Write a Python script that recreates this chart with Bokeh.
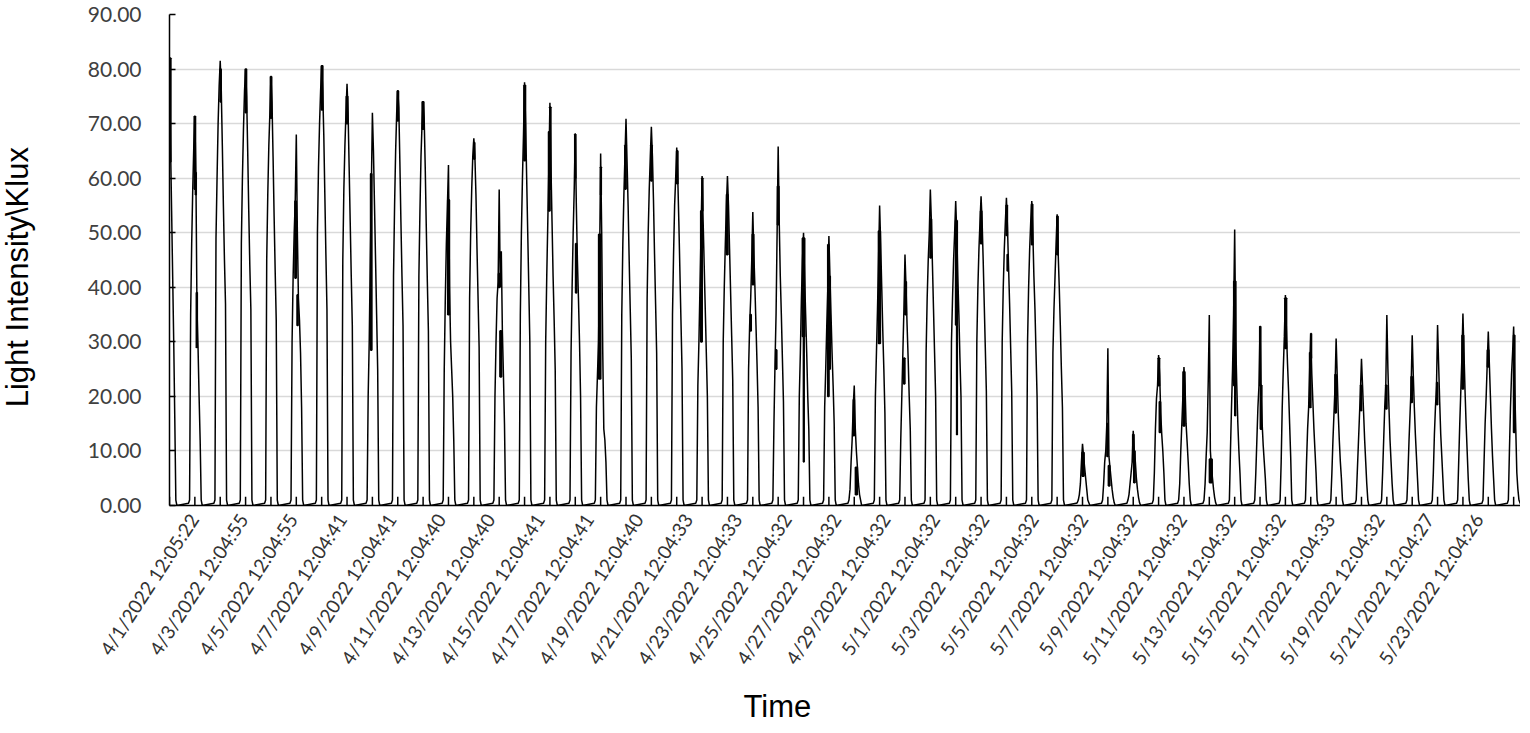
import math
from bokeh.plotting import figure
from bokeh.layouts import row
from bokeh.models import Range1d, FixedTicker, CustomJSTickFormatter, NumeralTickFormatter, Title
from bokeh.core.properties import value
from bokeh.embed import file_html
from bokeh.resources import INLINE

# ---------------- data ----------------
N = None
# hour of day of each value in a day's row (row value at noon = daily peak)
hours = [6, 7, 8, 9, 10, 11, 12, 13, 14, 15, 16, 17, 18, 19]

day_values = [
    [N, N, N, N, N, N, 82, 66, 54, 42, 30, 16, 1, 0],                 # 4/1
    [0.4, 1, 35, 48, 58, 66, 71.3, 60, 36, 29, 20, 12, 1, 0],         # 4/2
    [0.4, 1, 49, 60, 70, 77, 81.5, 76, 66, 55, 45, 37, 1, 0],         # 4/3
    [0.4, 1, 48, 60, 69, 76, 80, 75, 65, 54, 44, 36, 1, 0],           # 4/4
    [0.4, 1, 45, 57, 66, 72, 78.6, 74, 64, 53, 43, 34, 1, 0],         # 4/5
    [0.4, 1, 30, 42, 50, 56, 68, 50, 38, 34, 28, 18, 1, 0],           # 4/6
    [0.4, 1, 50, 62, 70, 76, 80.6, 76, 68, 57, 46, 36, 1, 0],         # 4/7
    [0.4, 1, 45, 58, 66, 72, 77.3, 72, 62, 52, 42, 33, 1, 0],         # 4/8
    [0.4, 1, 20, 30, 45, 58, 72, 65, 55, 45, 35, 25, 1, 0],           # 4/9
    [0.4, 1, 42, 55, 65, 72, 76, 73, 63, 52, 42, 33, 1, 0],           # 4/10
    [0.4, 1, 42, 54, 64, 70, 74, 71, 62, 51, 41, 32, 1, 0],           # 4/11
    [0.4, 1, 25, 38, 48, 55, 62.4, 40, 30, 25, 20, 12, 1, 0],         # 4/12
    [0.4, 1, 38, 50, 58, 64, 67.3, 64, 57, 47, 38, 29, 1, 0],         # 4/13
    [0.4, 1, 20, 30, 38, 41, 57.9, 40, 46.6, 32, 24, 15, 1, 0],       # 4/14
    [0.4, 1, 35, 50, 60, 68, 77.6, 70, 60, 50, 40, 30, 1, 0],         # 4/15
    [0.4, 1, 30, 42, 52, 62, 73.8, 62, 52, 42, 34, 25, 1, 0],         # 4/16
    [0.4, 1, 28, 40, 50, 58, 68.2, 55, 45, 38, 30, 20, 1, 0],         # 4/17
    [0.4, 1, 18, 24, 30, 45, 64.5, 50, 28, 14, 12, 8, 1, 0],          # 4/18
    [0.4, 1, 35, 48, 57, 64, 70.9, 63, 55, 45, 36, 27, 1, 0],         # 4/19
    [0.4, 1, 38, 50, 58, 64, 69.4, 64, 56, 46, 37, 28, 1, 0],         # 4/20
    [0.4, 1, 35, 46, 55, 60, 65.6, 60, 52, 43, 34, 25, 1, 0],         # 4/21
    [0.4, 1, 22, 30, 40, 50, 60.4, 52, 44, 36, 28, 20, 1, 0],         # 4/22
    [0.4, 1, 30, 40, 48, 55, 60.4, 55, 47, 39, 31, 23, 1, 0],         # 4/23
    [0.4, 1, 25, 33, 38, 45, 53.8, 46, 40, 33, 26, 18, 1, 0],         # 4/24
    [0.4, 1, 15, 26, 35, 50, 65.8, 52, 42, 35, 27, 19, 1, 0],         # 4/25
    [0.4, 1, 20, 28, 38, 45, 50, 42, 35, 28, 20, 14, 1, 0],           # 4/26
    [0.4, 1, 18, 25, 33, 40, 49.4, 42, 35, 28, 22, 15, 1, 0],         # 4/27
    [0.4, 1, 3, 8, 12, 18, 22, 14, 10, 7, 4, 2, 1, 0],                # 4/28
    [0.4, 1, 20, 28, 36, 45, 55, 48, 40, 32, 25, 17, 1, 0],           # 4/29
    [0.4, 1, 12, 20, 28, 36, 46, 40, 33, 27, 20, 14, 1, 0],           # 4/30
    [0.4, 1, 28, 38, 45, 50, 57.9, 52, 44, 36, 28, 20, 1, 0],         # 5/1
    [0.4, 1, 30, 38, 45, 50, 55.8, 50, 42, 35, 27, 20, 1, 0],         # 5/2
    [0.4, 1, 30, 40, 47, 52, 56.7, 52, 45, 37, 29, 21, 1, 0],         # 5/3
    [0.4, 1, 30, 40, 47, 52, 56.4, 51, 44, 37, 29, 21, 1, 0],         # 5/4
    [0.4, 1, 30, 40, 47, 52, 55.8, 50, 42, 36, 28, 20, 1, 0],         # 5/5
    [0.4, 1, 28, 36, 42, 48, 53.4, 46, 40, 33, 25, 18, 1, 0],         # 5/6
    [0.4, 0.5, 1, 2, 4, 8, 11.3, 9, 7, 5, 3, 1, 0.5, 0],              # 5/7
    [0.4, 1, 4, 8, 10, 15, 28.8, 9, 7, 5, 3, 1.5, 0.5, 0],            # 5/8
    [0.4, 1, 2, 4, 6, 8, 13.7, 10, 8, 5, 3, 1.5, 0.5, 0],             # 5/9
    [0.4, 1, 6, 14, 19.6, 22, 27.6, 24, 17, 13, 10, 6, 1, 0],         # 5/10
    [0.4, 1, 4, 10, 15, 20, 25.4, 22, 15, 11.6, 8, 4, 1, 0],          # 5/11
    [0.4, 1, 4, 9, 13.4, 23, 34.9, 10, 7, 5, 3, 1.5, 0.5, 0],         # 5/12
    [0.4, 1, 10, 18, 25, 35, 50.6, 30, 22, 15, 10, 6, 1, 0],          # 5/13
    [0.4, 1, 6, 12, 18, 22, 32.8, 20, 15, 11, 8, 5, 1, 0],            # 5/14
    [0.4, 1, 8, 18, 25, 31, 38.6, 32, 26, 21, 15, 9, 1, 0],           # 5/15
    [0.4, 1, 8, 14, 18, 25, 31.5, 24, 19, 14, 10, 6, 1, 0],           # 5/16
    [0.4, 1, 6, 12, 17, 22, 30.6, 24, 17, 12, 8, 5, 1, 0],            # 5/17
    [0.4, 1, 6, 11, 16, 21, 26.9, 22, 17, 12, 8, 4, 1, 0],            # 5/18
    [0.4, 1, 6, 12, 18, 22, 34.9, 25, 18, 12, 8, 4, 1, 0],            # 5/19
    [0.4, 1, 6, 12, 17, 22, 31.2, 24, 18, 13, 9, 5, 1, 0],            # 5/20
    [0.4, 1, 6, 13, 18, 22, 33.1, 26, 19, 13, 9, 5, 1, 0],            # 5/21
    [0.4, 1, 8, 15, 21, 27, 35.2, 28, 21, 15, 10, 5, 1, 0],           # 5/22
    [0.4, 1, 8, 15, 20, 26, 31.9, 26, 20, 14, 9, 5, 1, 0],            # 5/23
    [0.4, 1, 10, 18, 24, 28, 32.8, 22, 14, 6, 3, 1, 0.5, 0],          # 5/24
]

# fluctuating (cloudy) stretches: day index, start hour, end hour, low, high
band_day = [0, 1, 1, 1, 2, 3, 4, 5, 5, 6, 7, 8, 9, 10, 11, 12, 13, 13, 14, 15, 15,
            16, 16, 17, 17, 18, 19, 20, 21, 21, 22, 23, 23, 24, 24, 25, 25, 26, 26,
            27, 27, 28, 29, 29, 30, 31, 31, 32, 33, 33, 34, 35, 36, 37, 37, 38, 38,
            39, 39, 40, 41, 42, 42, 43, 43, 44, 45, 45, 46, 47, 48, 49, 50, 51, 52, 53]
band_h0 = [12.0, 11.5, 12.6, 13.5, 12.0, 11.8, 11.6, 10.8, 12.8, 11.8, 11.4, 10.4, 11.6, 11.2,
           11.4, 12.0, 11.4, 12.8, 11.5, 10.8, 12.0, 11.6, 12.4, 10.2, 12.0, 11.0, 11.6, 12.0,
           10.8, 12.0, 11.2, 11.6, 9.6, 9.8, 11.4, 11.0, 12.0, 11.0, 12.2, 11.2, 13.2, 11.0,
           10.8, 12.0, 11.8, 12.0, 13.0, 11.6, 11.8, 12.8, 11.8, 11.8, 11.6, 11.2, 12.6, 11.6,
           12.6, 11.8, 12.8, 11.2, 12.2, 11.2, 12.2, 11.8, 12.4, 11.6, 11.0, 12.0, 11.0, 11.2,
           11.0, 11.0, 11.2, 11.2, 11.2, 12.0]
band_h1 = [13.2, 12.5, 13.2, 14.2, 12.8, 12.8, 12.6, 11.8, 13.6, 13.0, 12.6, 11.4, 12.6, 12.6,
           12.8, 12.8, 12.4, 14.2, 12.8, 12.0, 12.8, 12.4, 13.2, 12.0, 12.5, 12.0, 12.6, 13.0,
           12.0, 12.6, 12.4, 12.8, 10.4, 10.6, 12.6, 13.0, 12.5, 12.0, 13.2, 12.0, 14.8, 12.6,
           11.8, 13.2, 13.0, 13.4, 13.4, 12.6, 12.8, 13.2, 12.8, 12.8, 13.4, 12.0, 13.8, 12.6,
           13.6, 12.8, 13.8, 12.8, 14.6, 13.0, 12.8, 12.6, 13.6, 13.0, 12.0, 12.6, 12.0, 12.0,
           12.0, 12.0, 12.0, 12.6, 12.4, 13.0]
band_low = [63, 58, 57, 29, 74, 72, 71, 41.7, 33, 72.5, 70, 28.5, 70.5, 69, 35, 63.5, 40, 23.6,
            63.2, 54, 58, 60, 39, 23.2, 57, 58, 59.5, 59, 30, 54, 46, 40.5, 32, 25, 51.5, 31, 8,
            20, 25, 12.8, 2, 29.7, 22.3, 35, 45.4, 33.1, 13, 48, 49.5, 43, 47.8, 46, 5.4, 9, 3.6,
            8, 4.2, 22, 13.4, 14.6, 4.2, 22, 16.5, 22, 14, 28.8, 18, 27, 17, 17.4, 17.7, 18.9,
            18.5, 21.4, 25.4, 13.4]
band_high = [82, 71.3, 61, 39, 80, 80, 78.6, 55.8, 38.6, 80.6, 75, 60.8, 76, 74, 56, 66.5, 42.5,
             32, 77, 68.5, 73, 68, 48, 49.7, 62, 66, 66, 65, 54, 60, 57, 49.7, 35, 28.5, 58.5,
             49, 31, 47.8, 42, 19.4, 7, 50.3, 27, 41, 52.5, 52.2, 33, 54, 55, 46, 55.2, 53, 9.7,
             15, 7.3, 13, 10, 27, 19, 24.5, 8.5, 41.1, 22, 32.8, 22, 38, 28, 31.5, 24, 22, 22,
             23.6, 22.5, 31.2, 28.5, 31.2]

# small spike at the base under each day's peak
bump_vals = [1.6] * 54

tick_labels = [
    "4/1/2022 12:05:22", "4/3/2022 12:04:55", "4/5/2022 12:04:55", "4/7/2022 12:04:41",
    "4/9/2022 12:04:41", "4/11/2022 12:04:40", "4/13/2022 12:04:40", "4/15/2022 12:04:41",
    "4/17/2022 12:04:41", "4/19/2022 12:04:40", "4/21/2022 12:04:33", "4/23/2022 12:04:33",
    "4/25/2022 12:04:32", "4/27/2022 12:04:32", "4/29/2022 12:04:32", "5/1/2022 12:04:32",
    "5/3/2022 12:04:32", "5/5/2022 12:04:32", "5/7/2022 12:04:32", "5/9/2022 12:04:32",
    "5/11/2022 12:04:32", "5/13/2022 12:04:32", "5/15/2022 12:04:32", "5/17/2022 12:04:33",
    "5/19/2022 12:04:32", "5/21/2022 12:04:27", "5/23/2022 12:04:26",
]
y_ticks = [0, 10, 20, 30, 40, 50, 60, 70, 80, 90]
y_title = "Light Intensity\\Klux"
x_title = "Time"

# ---------------- layout constants ----------------
H = 732
LABEL0 = 0.95      # position (days) of the first category label
LABELSTEP = 1.948  # spacing (days) between category labels
X_END = 53.27
Y_TITLE_START = 18.0   # vertical start of the rotated y title, in axis units

# ---------------- build series ----------------
xs, ys = [], []
for d, row_vals in enumerate(day_values):
    for h, v in zip(hours, row_vals):
        if v is None:
            continue
        xs.append(d + (h - 12) / 24.0)
        ys.append(v)

bl = [d + (h0 - 12) / 24.0 for d, h0 in zip(band_day, band_h0)]
br = [d + (h1 - 12) / 24.0 for d, h1 in zip(band_day, band_h1)]
bump_x = list(range(len(bump_vals)))

yr = Range1d(0, 90)

# narrow strip on the left that carries the vertical axis title
pt = figure(width=40, height=H, output_backend="svg", toolbar_location=None,
            x_range=Range1d(0, 40), y_range=yr,
            x_axis_location=None, y_axis_location=None,
            min_border_left=0, min_border_right=0, min_border_top=14, min_border_bottom=227)
pt.grid.visible = False
pt.outline_line_color = None
pt.background_fill_color = "white"
pt.border_fill_color = "white"
pt.text(x=[17], y=[Y_TITLE_START], text=[y_title], angle=math.pi / 2,
        text_align="left", text_baseline="middle",
        text_font=value("Liberation Sans"), text_font_size="31px", text_color="black")

p = figure(width=1480, height=H, output_backend="svg", toolbar_location=None,
           x_range=Range1d(0, X_END), y_range=yr,
           min_border_left=129, min_border_right=0, min_border_top=14, min_border_bottom=227)
p.background_fill_color = "white"
p.border_fill_color = "white"
p.outline_line_color = None

p.line(xs, ys, line_color="black", line_width=1.5)
p.quad(left=bl, right=br, bottom=band_low, top=band_high,
       fill_color="black", line_color="black", line_width=1.8)
p.segment(x0=bump_x, y0=[0] * len(bump_x), x1=bump_x, y1=bump_vals,
          line_color="black", line_width=1.5)

# grid
p.xgrid.visible = False
p.ygrid.ticker = FixedTicker(ticks=y_ticks)
p.ygrid.grid_line_color = "#d9d9d9"
p.ygrid.grid_line_width = 1.5

# y axis
ya = p.yaxis[0]
ya.ticker = FixedTicker(ticks=y_ticks)
ya.formatter = NumeralTickFormatter(format="0.00")
ya.axis_line_color = "black"
ya.axis_line_width = 1.5
ya.major_tick_in = 6
ya.major_tick_out = 0
ya.major_tick_line_color = "black"
ya.major_tick_line_width = 1.5
ya.minor_tick_line_color = None
ya.major_label_standoff = 28
ya.major_label_text_font = "Lato"
ya.major_label_text_font_size = "21px"
ya.major_label_text_color = "#404040"

# x axis
xa = p.xaxis[0]
xa.ticker = FixedTicker(ticks=[LABEL0 + LABELSTEP * k for k in range(len(tick_labels))])
xa.formatter = CustomJSTickFormatter(
    args=dict(labels=tick_labels, start=LABEL0, step=LABELSTEP),
    code="const i = Math.round((tick - start) / step); return (i >= 0 && i < labels.length) ? labels[i] : '';")
xa.axis_line_color = "black"
xa.axis_line_width = 1.5
xa.major_tick_in = 0
xa.major_tick_out = 0
xa.major_tick_line_color = None
xa.minor_tick_line_color = None
xa.major_label_orientation = math.radians(57)
xa.major_label_standoff = 10
xa.major_label_text_font = "Lato"
xa.major_label_text_font_size = "19px"
xa.major_label_text_color = "#333333"

p.add_layout(Title(text=x_title, align="left", offset=574, standoff=18,
                   text_font="Liberation Sans", text_font_size="31px",
                   text_font_style="normal", text_color="black"), "below")

layout = row(pt, p)
open("out.html", "w").write(file_html(layout, INLINE))
